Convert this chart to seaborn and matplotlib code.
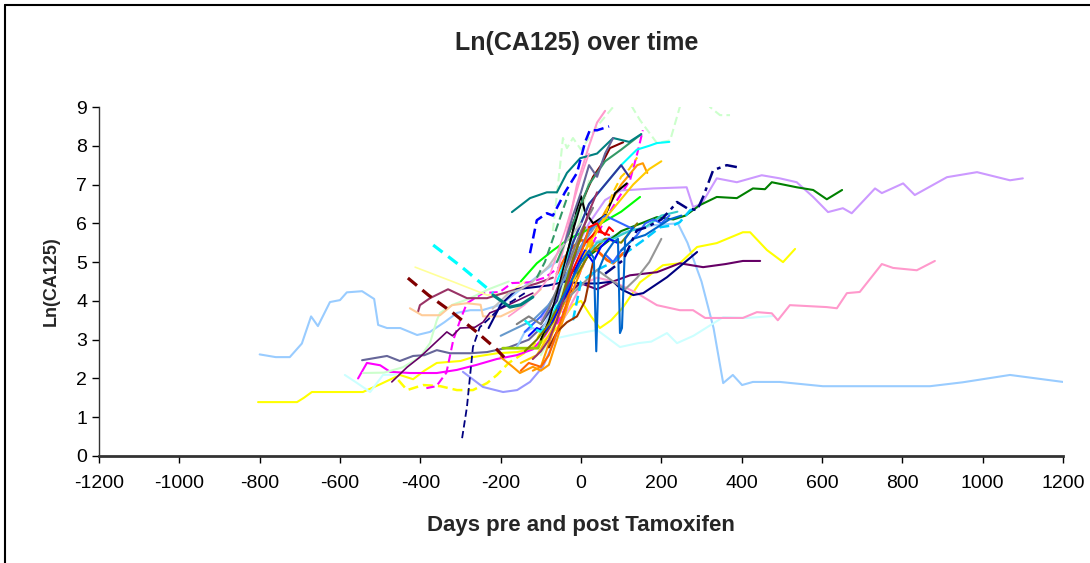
import matplotlib
matplotlib.use("Agg")
import matplotlib.pyplot as plt
import seaborn as sns
from matplotlib.lines import Line2D

# --- data: days relative to Tamoxifen start vs ln(CA125), one pair per patient ---
p01_days = [-800, -760, -725, -695, -672, -655, -625, -600, -583, -545, -515, -505, -483, -450, -408, -376, -340, -309,
            -276, -246, -200, -150, -100, -50, 0, 60, 120, 180, 241, 265, 300, 330, 354, 378, 401, 428, 495, 602, 869,
            950, 1068, 1200]
p01_ln = [2.62, 2.55, 2.55, 2.9, 3.6, 3.35, 3.97, 4.02, 4.22, 4.25, 4.05, 3.38, 3.3, 3.3, 3.12, 3.2, 3.45, 3.69,
          3.76, 3.76, 3.9, 4.3, 4.7, 5.1, 5.4, 5.6, 5.8, 5.95, 6.0, 5.5, 4.5, 3.3, 1.88, 2.09, 1.83, 1.91, 1.91, 1.8, 1.8,
          1.9, 2.09, 1.91]
p02_days = [-804, -707, -690, -670, -543, -500, -451, -418, -390, -359, -300, -269, -209, -159, -110, -60, -20, 0, 25,
            47, 75, 105, 147, 204, 246, 289, 338, 403, 421, 463, 503, 533]
p02_ln = [1.39, 1.39, 1.5, 1.65, 1.65, 1.85, 2.09, 1.98, 2.2, 2.4, 2.45, 2.55, 2.65, 2.68, 2.8, 3.3, 3.9, 4.0, 3.6,
          3.3, 3.5, 3.84, 4.48, 4.92, 4.97, 5.39, 5.49, 5.77, 5.77, 5.31, 5.0, 5.34]
p03_days = [-455, -433, -393, -350, -309, -269, -234, -209, -180, -150, -120, -95]
p03_ln = [1.96, 1.7, 1.83, 1.8, 1.7, 1.7, 1.88, 2.09, 2.4, 2.6, 2.8, 3.3]
p04_days = [-555, -533, -500, -475, -425, -359, -309, -260, -210, -160, -120, -90, -60]
p04_ln = [2.0, 2.4, 2.34, 2.17, 2.14, 2.14, 2.22, 2.35, 2.5, 2.6, 2.75, 3.1, 3.6]
p05_days = [-385, -360, -335, -318, -301, -284, -244, -202, -172, -127, -90, -50]
p05_ln = [1.75, 1.8, 2.15, 2.99, 3.5, 3.94, 4.2, 4.23, 4.46, 4.48, 4.6, 4.9]
p06_days = [-60, -30, 0, 30, 60, 90, 122, 140, 154]
p06_ln = [3.4, 4.0, 4.8, 5.5, 6.1, 6.6, 7.11, 7.8, 8.4]
p07_days = [-431, -380, -320, -260, -210, -180]
p07_ln = [4.59, 4.15, 3.7, 3.2, 2.75, 2.42]
p08_days = [-368, -300, -219]
p08_ln = [5.44, 4.9, 4.2]
p09_days = [-219, -177, -150, -120]
p09_ln = [4.15, 3.84, 3.9, 4.1]
p10_days = [-413, -320, -234, -180, -140]
p10_ln = [4.87, 4.5, 4.15, 4.2, 4.5]
p11_days = [-406, -401, -376, -331, -284, -234, -209, -160, -110, -70]
p11_ln = [3.71, 3.89, 4.07, 4.3, 4.07, 4.07, 4.15, 4.3, 4.45, 4.6]
p12_days = [-426, -396, -351, -321, -284, -250, -244, -200, -150, -100]
p12_ln = [3.81, 3.63, 3.63, 3.89, 3.94, 3.9, 3.6, 3.6, 3.85, 4.3]
p13_days = [-543, -490, -443, -401, -376, -359, -351, -320, -280, -230, -180]
p13_ln = [2.14, 2.15, 2.29, 2.55, 2.91, 3.5, 3.69, 3.9, 4.05, 4.3, 4.5]
p14_days = [-70, -52, -45, -35, -20, 0, 40, 80, 110, 147, 189, 222, 246, 270, 300, 321, 346, 371]
p14_ln = [5.8, 7.5, 8.2, 7.94, 8.2, 7.9, 8.5, 9.0, 9.3, 8.66, 8.07, 8.14, 9.0, 9.6, 9.6, 9.0, 8.79, 8.79]
p15_days = [-545, -483, -451, -418, -390, -359, -326, -276, -234, -180, -130, -90]
p15_ln = [2.47, 2.58, 2.45, 2.58, 2.6, 2.73, 2.65, 2.65, 2.68, 2.8, 3.0, 3.4]
p16_days = [-471, -433, -401, -370, -334, -320, -301, -264, -244, -227, -200, -160, -120]
p16_ln = [1.91, 2.29, 2.55, 2.85, 3.2, 3.1, 3.3, 3.32, 3.45, 3.69, 3.8, 4.0, 4.2]
p17_days = [-296, -284, -269, -252, -227, -202, -170, -140]
p17_ln = [0.46, 1.26, 2.81, 3.32, 3.56, 3.81, 4.0, 4.2]
p18_days = [-294, -244, -194, -159, -127, -95, -65, -40]
p18_ln = [2.17, 1.78, 1.65, 1.7, 1.91, 2.3, 3.0, 3.8]
p19_days = [-588, -560, -525, -493, -460]
p19_ln = [2.09, 1.9, 1.65, 2.09, 2.1]
p20_days = [-60, -2, 40, 97, 142, 175, 214, 239, 280, 354, 413, 478]
p20_ln = [3.04, 3.17, 3.25, 2.81, 2.91, 2.95, 3.17, 2.91, 3.1, 3.58, 3.56, 3.61]
p21_days = [-100, -60, -20, 20, 60, 100, 122, 180, 263, 279, 300, 338, 388, 450, 495, 537, 578, 615, 652, 674, 732,
            749, 802, 831, 911, 986, 1068, 1100]
p21_ln = [3.5, 4.2, 5.2, 6.0, 6.6, 6.85, 6.86, 6.9, 6.93, 6.42, 6.5, 7.16, 7.06, 7.24, 7.16, 7.06, 6.68, 6.29, 6.39,
          6.26, 6.9, 6.78, 7.03, 6.73, 7.19, 7.32, 7.11, 7.16]
p22_days = [-50, 0, 50, 100, 150, 189, 230, 260, 296, 338, 388, 428, 458, 475, 537, 578, 612, 650]
p22_ln = [4.4, 5.0, 5.4, 5.8, 6.0, 6.16, 6.1, 6.2, 6.47, 6.68, 6.65, 6.9, 6.88, 7.06, 6.93, 6.86, 6.62, 6.86]
p23_days = [-100, -60, -30, -2, 40, 80, 122, 189, 246, 304, 360, 403, 446]
p23_ln = [3.0, 3.6, 4.2, 4.46, 4.3, 4.5, 4.66, 4.74, 4.97, 4.87, 4.95, 5.03, 5.03]
p24_days = [-70, -30, 0, 40, 80, 110, 139, 189, 246, 279, 309, 403, 438, 475, 490, 520, 612, 637, 662, 694, 749,
            777, 836, 881]
p24_ln = [3.0, 3.8, 4.4, 4.6, 4.5, 4.35, 4.2, 3.89, 3.76, 3.76, 3.56, 3.56, 3.71, 3.68, 3.5, 3.89, 3.84, 3.81, 4.2,
          4.23, 4.95, 4.85, 4.79, 5.03]
p25_days = [60, 105, 139, 164, 200, 222, 239, 264, 289, 304, 329, 363, 388]
p25_ln = [4.7, 5.05, 5.82, 5.9, 6.1, 6.34, 6.55, 6.39, 6.34, 6.68, 7.37, 7.5, 7.45]
p26_days = [-230, -200, -160, -120, -80, -40, 0, 40, 80, 100, 130, 155, 214, 289]
p26_ln = [3.3, 3.9, 4.3, 4.35, 4.4, 4.5, 4.45, 4.45, 4.5, 4.3, 4.15, 4.2, 4.61, 5.26]
p27_days = [-60, -30, 0, 20, 32, 38, 44, 60, 80, 92, 97, 102, 110, 130]
p27_ln = [3.8, 4.4, 5.0, 5.3, 5.1, 2.7, 4.8, 5.2, 5.5, 5.6, 3.17, 3.3, 5.6, 5.9]
p28_days = [-60, -30, 0, 20, 40, 65, 80, 105]
p28_ln = [4.7, 5.3, 5.57, 5.5, 5.3, 5.05, 4.97, 5.23]
p29_days = [-120, -100, -60, -20, 20, 60, 100, 140, 154, 165]
p29_ln = [2.2, 2.3, 3.5, 4.5, 5.5, 6.3, 7.0, 7.5, 7.55, 7.3]
p30_days = [-200, -170, -152, -120, -100, -80, -60, -30, 0, 30]
p30_ln = [2.55, 2.3, 2.14, 2.3, 2.2, 2.35, 3.0, 4.0, 4.8, 5.5]
p31_days = [-195, -150, -107, -90, -60]
p31_ln = [2.78, 2.78, 2.78, 3.2, 3.8]
p32_days = [-100, -60, -20, 20, 60, 100, 140]
p32_ln = [3.0, 3.6, 4.5, 5.2, 5.6, 5.5, 6.0]
p33_days = [-150, -110, -70, -30, 10, 50, 100, 147]
p33_ln = [4.5, 4.97, 5.3, 5.6, 5.8, 6.0, 6.3, 6.68]
p34_days = [-40, 0, 40, 80, 110, 140, 170, 200]
p34_ln = [4.0, 4.4, 4.8, 4.5, 4.3, 4.6, 5.0, 5.6]
p35_days = [-20, 0, 40, 80, 120, 160, 197, 230, 246, 272, 291]
p35_ln = [3.5, 4.5, 4.8, 5.0, 5.3, 5.6, 5.9, 5.95, 6.03, 6.34, 6.39]
p36_days = [-80, -60, -35, -10, 10, 30]
p36_ln = [2.8, 3.2, 3.45, 3.6, 4.0, 5.0]
p37_days = [-40, 0, 30, 50, 72, 105]
p37_ln = [5.5, 6.5, 7.2, 7.5, 7.94, 8.09]
p38_days = [-40, -20, -10, 0, 10, 30, 60, 85, 114]
p38_ln = [5.0, 5.8, 6.39, 6.7, 6.3, 6.0, 6.2, 6.78, 7.03]
p39_days = [-70, -40, -10, 20, 40, 60]
p39_ln = [4.3, 5.5, 7.0, 8.0, 8.6, 8.9]
p40_days = [-140, -100, -60, -20, 20, 60, 100, 140]
p40_ln = [3.2, 3.6, 4.2, 5.0, 5.8, 6.2, 6.0, 5.8]
p41_days = [-60, -20, 20, 60, 100, 150]
p41_ln = [5.0, 6.0, 7.0, 7.6, 7.9, 8.3]
p42_days = [-80, -40, 0, 40, 80, 120, 160, 200, 240]
p42_ln = [3.5, 4.2, 5.0, 5.5, 5.6, 5.8, 5.9, 6.2, 6.3]
p43_days = [-60, -20, 20, 60, 100, 139, 170, 189, 220]
p43_ln = [4.5, 5.5, 6.5, 7.0, 7.5, 7.9, 8.0, 8.07, 8.1]
p44_days = [-172, -127, -85, -60, -35, -2, 40, 80, 120, 150]
p44_ln = [6.29, 6.65, 6.8, 6.8, 7.3, 7.68, 7.8, 8.2, 8.1, 8.3]
p45_days = [-127, -110, -85, -70, -40, -10, 10, 22, 40, 55, 70]
p45_ln = [5.23, 6.08, 6.26, 6.2, 6.8, 7.3, 8.09, 8.4, 8.4, 8.45, 8.5]
p46_days = [-100, -60, -20, 20, 60, 100, 120]
p46_ln = [3.4, 4.0, 5.5, 6.5, 7.0, 7.5, 7.2]
p47_days = [-150, -110, -70, -30, 10, 50, 90, 130, 170, 200]
p47_ln = [2.4, 2.6, 3.3, 4.4, 5.3, 6.0, 6.5, 7.0, 7.4, 7.6]
p48_days = [-50, -20, 10, 40, 70]
p48_ln = [4.0, 4.8, 5.5, 5.8, 5.7]
p49_days = [-200, -160, -120, -80, -40, 0, 40]
p49_ln = [3.1, 3.3, 3.5, 3.9, 4.6, 5.4, 6.0]
p50_days = [-220, -180, -150, -120, -80, -40, 0]
p50_ln = [3.8, 4.2, 4.3, 4.5, 4.9, 5.5, 6.0]
p51_days = [-150, -130, -100, -80, -60, -40, -20, 0, 20]
p51_ln = [2.2, 2.4, 2.3, 2.6, 3.2, 3.8, 4.5, 5.2, 5.9]
p52_days = [-130, -110, -90, -70, -50, -30, -10, 10, 30, 50, 70, 90]
p52_ln = [3.1, 3.3, 3.2, 3.5, 3.9, 4.3, 4.9, 5.3, 5.0, 5.4, 5.6, 5.5]
p53_days = [-180, -140, -110, -80, -60, -40, -20, 0, 20]
p53_ln = [3.6, 3.9, 4.2, 4.6, 5.2, 5.8, 6.5, 7.2, 7.8]
p54_days = [-140, -120, -100, -80, -60]
p54_ln = [3.5, 3.3, 3.2, 3.4, 3.9]
p55_days = [-160, -130, -100, -80, -60, -30, 0, 30]
p55_ln = [3.4, 3.6, 3.4, 3.8, 4.3, 5.0, 5.8, 6.4]
p56_days = [-120, -100, -80, -60, -40, -20, 0, 20, 40]
p56_ln = [2.5, 2.7, 3.0, 3.5, 4.2, 5.0, 5.7, 6.3, 6.8]
p57_days = [60, 80, 100, 120, 140, 160, 180, 200, 220]
p57_ln = [5.2, 5.0, 5.3, 5.5, 5.7, 6.0, 6.1, 6.0, 6.2]
p58_days = [-20, 0, 20, 40, 60, 80, 100, 120, 140]
p58_ln = [4.5, 5.0, 5.4, 5.8, 6.2, 6.8, 7.2, 7.4, 7.7]
p59_days = [-40, -20, 0, 20, 40, 60, 80]
p59_ln = [5.5, 6.2, 6.8, 7.5, 7.2, 7.8, 8.2]
p60_days = [-100, -80, -60, -40, -20, 0]
p60_ln = [3.0, 3.5, 4.2, 5.0, 5.8, 6.5]
p61_days = [20, 40, 50, 60, 70, 80]
p61_ln = [5.9, 6.0, 5.8, 5.7, 5.9, 5.8]
p62_days = [-160, -140, -120, -100, -80, -60, -40, -20]
p62_ln = [2.8, 3.2, 3.3, 3.2, 3.6, 4.1, 4.8, 5.6]
p63_days = [-100, -80, -60, -40, -20, 0, 20]
p63_ln = [2.6, 3.0, 3.8, 4.6, 5.5, 6.2, 7.1]
p64_days = [-110, -90, -70, -50, -30]
p64_ln = [4.6, 5.0, 5.6, 6.2, 6.8]
p65_days = [100, 130, 160, 190, 220, 250]
p65_ln = [5.3, 5.6, 5.7, 5.9, 6.1, 6.2]
p66_days = [-140, -110, -80, -50, -20, 10]
p66_ln = [2.7, 3.0, 3.4, 4.0, 5.1, 5.9]

# --- styling table: (days, ln, colour, linestyle, width) ---
DASH = (0, (4, 2))
TDASH = (0, (3.7, 2.2))
DDOT = (0, (5, 2, 1.5, 2))
series = [
    (p01_days, p01_ln, "#99CCFF", "-", 1.5),
    (p02_days, p02_ln, "#FFFF00", "-", 1.5),
    (p03_days, p03_ln, "#FFFF00", DASH, 1.8),
    (p04_days, p04_ln, "#FF00FF", "-", 1.5),
    (p05_days, p05_ln, "#FF00FF", DASH, 1.5),
    (p06_days, p06_ln, "#FF00FF", DASH, 1.5),
    (p13_days, p13_ln, "#CCFFCC", "-", 1.5),
    (p10_days, p10_ln, "#FFFF99", "-", 1.2),
    (p11_days, p11_ln, "#993366", "-", 1.5),
    (p12_days, p12_ln, "#FFCC99", "-", 1.5),
    (p14_days, p14_ln, "#CCFFCC", DASH, 1.5),
    (p15_days, p15_ln, "#666699", "-", 1.5),
    (p16_days, p16_ln, "#660066", "-", 1.2),
    (p18_days, p18_ln, "#9999FF", "-", 1.5),
    (p19_days, p19_ln, "#CCFFFF", "-", 1.5),
    (p20_days, p20_ln, "#CCFFFF", "-", 1.5),
    (p21_days, p21_ln, "#CC99FF", "-", 1.5),
    (p22_days, p22_ln, "#008000", "-", 1.5),
    (p23_days, p23_ln, "#660066", "-", 1.5),
    (p24_days, p24_ln, "#FF99CC", "-", 1.5),
    (p62_days, p62_ln, "#99CCFF", "-", 1.5),
    (p63_days, p63_ln, "#CCFFCC", "-", 1.5),
    (p26_days, p26_ln, "#000080", "-", 1.5),
    (p28_days, p28_ln, "#FF6600", "-", 2.0),
    (p29_days, p29_ln, "#FF9900", "-", 1.5),
    (p30_days, p30_ln, "#FF9900", "-", 1.5),
    (p31_days, p31_ln, "#99CC00", "-", 2.0),
    (p32_days, p32_ln, "#808000", "-", 1.5),
    (p33_days, p33_ln, "#00FF00", "-", 1.5),
    (p34_days, p34_ln, "#969696", "-", 1.5),
    (p35_days, p35_ln, "#00CCFF", DASH, 1.8),
    (p36_days, p36_ln, "#993300", "-", 1.5),
    (p37_days, p37_ln, "#800000", "-", 1.5),
    (p38_days, p38_ln, "#000000", "-", 1.5),
    (p39_days, p39_ln, "#FF99CC", "-", 1.5),
    (p40_days, p40_ln, "#3366FF", "-", 1.5),
    (p41_days, p41_ln, "#339966", "-", 1.5),
    (p42_days, p42_ln, "#33CCCC", "-", 1.5),
    (p43_days, p43_ln, "#00FFFF", "-", 1.5),
    (p44_days, p44_ln, "#008080", "-", 1.5),
    (p45_days, p45_ln, "#0000FF", DASH, 1.8),
    (p46_days, p46_ln, "#333399", "-", 1.5),
    (p47_days, p47_ln, "#FFCC00", "-", 1.5),
    (p48_days, p48_ln, "#FF0000", "-", 1.5),
    (p49_days, p49_ln, "#6699CC", "-", 1.5),
    (p50_days, p50_ln, "#C0C0C0", "-", 1.5),
    (p51_days, p51_ln, "#FF6600", "-", 1.5),
    (p52_days, p52_ln, "#0000FF", "-", 1.5),
    (p53_days, p53_ln, "#FF99CC", "-", 1.2),
    (p54_days, p54_ln, "#00FFFF", DASH, 1.8),
    (p55_days, p55_ln, "#808080", "-", 1.5),
    (p56_days, p56_ln, "#993366", "-", 1.5),
    (p57_days, p57_ln, "#3366FF", "-", 1.5),
    (p58_days, p58_ln, "#FFCC00", DASH, 1.5),
    (p59_days, p59_ln, "#666699", "-", 1.5),
    (p60_days, p60_ln, "#000000", "-", 1.2),
    (p61_days, p61_ln, "#FF0000", "-", 1.5),
    (p64_days, p64_ln, "#339966", DASH, 1.5),
    (p65_days, p65_ln, "#0066CC", "-", 1.5),
    (p66_days, p66_ln, "#808000", "-", 1.5),
    (p27_days, p27_ln, "#0066CC", "-", 1.5),
    (p25_days, p25_ln, "#000080", DDOT, 1.8),
    (p17_days, p17_ln, "#000080", DASH, 1.3),
    (p07_days, p07_ln, "#800000", TDASH, 2.3),
    (p08_days, p08_ln, "#00FFFF", TDASH, 2.3),
    (p09_days, p09_ln, "#008080", "-", 2.3),
]

sns.set_style("white")
plt.rcParams["font.family"] = ["Liberation Sans", "DejaVu Sans"]
plt.rcParams["axes.unicode_minus"] = False

fig = plt.figure(figsize=(10.9, 5.63), dpi=100)
ax = fig.add_axes([99 / 1090, 1 - 456 / 563, (1063 - 99) / 1090, (456 - 107) / 563])

for days, ln, col, ls, lw in series:
    sns.lineplot(x=days, y=ln, ax=ax, color=col, linestyle=ls, linewidth=lw,
                 sort=False, estimator=None)

ax.set_xlim(-1200, 1200)
ax.set_ylim(0, 9)
ax.set_xticks(range(-1200, 1201, 200))
ax.set_yticks(range(0, 10))
ax.tick_params(axis="both", direction="out", length=5, width=1, colors="black",
               labelsize=14, bottom=True, left=True)
ax.tick_params(axis="x", pad=9)
for side in ["top", "right"]:
    ax.spines[side].set_visible(False)
ax.spines["left"].set_color("#333333")
ax.spines["left"].set_linewidth(1)
ax.spines["bottom"].set_color("#333333")
ax.spines["bottom"].set_linewidth(2)

ax.set_xlabel("Days pre and post Tamoxifen", fontsize=16, fontweight="bold", labelpad=16)
ax.set_ylabel("Ln(CA125)", fontsize=13, fontweight="bold", labelpad=12)
fig.text(0.529, 1 - 43 / 563, "Ln(CA125) over time", ha="center", va="center",
         fontsize=18, fontweight="bold")

# chart frame (only the top and left edges are inside the picture)
fig.add_artist(Line2D([5 / 1090, 5 / 1090], [0, 1 - 5 / 563], color="black", lw=1.5))
fig.add_artist(Line2D([5 / 1090, 1], [1 - 5 / 563, 1 - 5 / 563], color="black", lw=1.5))

fig.savefig("out.png", dpi=100)
